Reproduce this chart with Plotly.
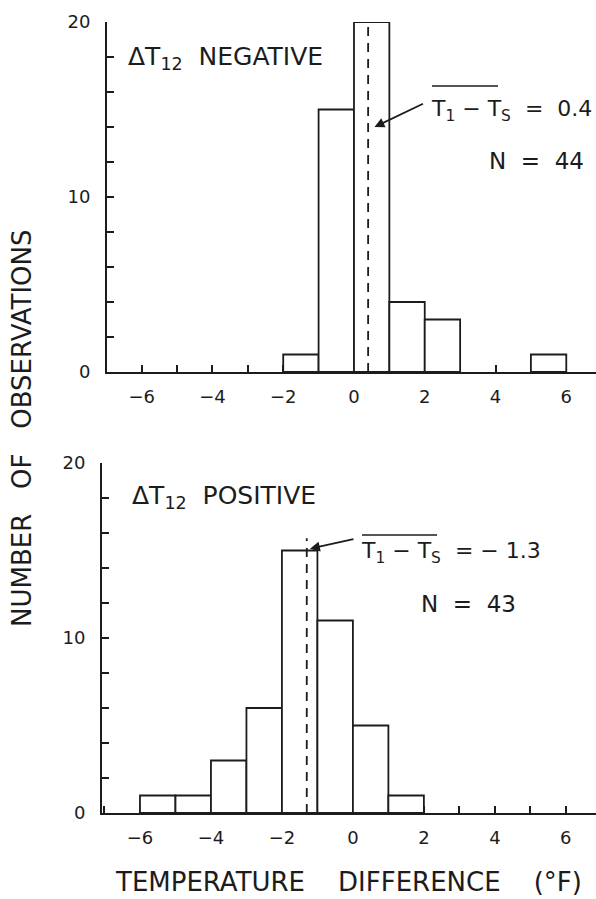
import plotly.graph_objects as go

# ---- data ----
neg_bin_left = [-2, -1, 0, 1, 2, 5]
neg_counts = [1, 15, 20, 4, 3, 1]
neg_mean = 0.4
neg_n = 44

pos_bin_left = [-6, -5, -4, -3, -2, -1, 0, 1]
pos_counts = [1, 1, 3, 6, 15, 11, 5, 1]
pos_mean = -1.3
pos_n = 43

x_tick_vals = [-6, -4, -2, 0, 2, 4, 6]
y_tick_vals = [0, 10, 20]

W, H = 596, 899
INK = "#1c1c1c"
FONT = "DejaVu Sans"
NB = "\u00a0"


def px(x):
    return x / W


def py(y):
    return 1 - y / H


fig = go.Figure()

for left, counts, xa, ya in [(neg_bin_left, neg_counts, "x", "y"),
                             (pos_bin_left, pos_counts, "x2", "y2")]:
    fig.add_trace(go.Bar(
        x=[b + 0.5 for b in left], y=counts, width=1,
        marker=dict(color="white", line=dict(color=INK, width=1.8)),
        xaxis=xa, yaxis=ya, cliponaxis=False, hoverinfo="skip"))

# dashed mean lines
fig.add_trace(go.Scatter(x=[neg_mean, neg_mean], y=[0, 20], mode="lines",
                         line=dict(color=INK, width=1.8, dash="9px,7px"),
                         xaxis="x", yaxis="y", cliponaxis=False))
fig.add_trace(go.Scatter(x=[pos_mean, pos_mean], y=[0, 15.7], mode="lines",
                         line=dict(color=INK, width=1.8, dash="9px,7px"),
                         xaxis="x2", yaxis="y2", cliponaxis=False))

axis_common = dict(showline=True, linecolor=INK, linewidth=2, showgrid=False,
                   zeroline=False, ticks="inside", ticklen=7, tickwidth=1.5,
                   tickcolor=INK, automargin=False,
                   tickfont=dict(family=FONT, size=18, color=INK))

xcommon = dict(axis_common, tickmode="array", tickvals=x_tick_vals,
               ticktext=[("\u2212" + str(-v)) if v < 0 else str(v) for v in x_tick_vals],
               minor=dict(tickmode="linear", tick0=0, dtick=1, ticks="inside",
                          ticklen=7, tickwidth=1.5, tickcolor=INK),
               ticklabelstandoff=7, layer="below traces")
ycommon = dict(axis_common, tickmode="array", tickvals=y_tick_vals,
               range=[0, 20],
               minor=dict(tickmode="linear", tick0=0, dtick=2, ticks="inside",
                          ticklen=7, tickwidth=1.5, tickcolor=INK),
               tickfont=dict(family=FONT, size=18, color=INK),
               ticklabelstandoff=11)

fig.update_layout(
    width=W, height=H, margin=dict(l=0, r=0, t=0, b=0, pad=0),
    paper_bgcolor="white", plot_bgcolor="white", showlegend=False,
    barmode="overlay",
    xaxis=dict(xcommon, domain=[px(107), 1], range=[-6.98, 6.84], anchor="y"),
    yaxis=dict(ycommon, domain=[py(372), py(22)], anchor="x"),
    xaxis2=dict(xcommon, domain=[px(102), 1], range=[-7.07, 6.85], anchor="y2"),
    yaxis2=dict(ycommon, domain=[py(813), py(463)], anchor="x2"),
)

ann = []


def txt(text, x, y, size, xanchor="left", angle=0):
    ann.append(dict(text=text, x=px(x), y=py(y), xref="paper", yref="paper",
                    xanchor=xanchor, yanchor="middle", showarrow=False,
                    textangle=angle, font=dict(family=FONT, size=size, color=INK)))


# panel labels
txt("\u0394T<sub>12</sub>" + NB * 2 + "NEGATIVE", 126, 58, 25)
txt("\u0394T<sub>12</sub>" + NB * 2 + "POSITIVE", 130, 497, 25)

# mean labels
txt("T<sub>1</sub> \u2212 T<sub>S</sub>" + NB * 2 + "=" + NB * 2 + f"{neg_mean}", 429, 110, 22)
txt("T<sub>1</sub> \u2212 T<sub>S</sub>" + NB * 2 + "=" + NB + "\u2212" + NB + f"{abs(pos_mean)}", 359, 552, 22)

# N labels
txt("N" + NB * 2 + "=" + NB * 2 + f"{neg_n}", 487, 161, 23)
txt("N" + NB * 2 + "=" + NB * 2 + f"{pos_n}", 419, 604, 23)

# axis titles
txt("NUMBER" + NB * 3 + "OF" + NB * 3 + "OBSERVATIONS", 22, 428, 26, xanchor="center", angle=-90)
txt("TEMPERATURE" + NB * 4 + "DIFFERENCE" + NB * 4 + "(\u00b0F)", 113, 882, 26)

# arrows pointing to mean lines
ann.append(dict(x=neg_mean + 0.18, y=14.0, xref="x", yref="y", ax=50, ay=-24,
                axref="pixel", ayref="pixel", showarrow=True, arrowhead=2,
                arrowsize=1.1, arrowwidth=1.8, arrowcolor=INK, text=""))
ann.append(dict(x=pos_mean + 0.09, y=15.1, xref="x2", yref="y2", ax=45, ay=-10,
                axref="pixel", ayref="pixel", showarrow=True, arrowhead=2,
                arrowsize=1.1, arrowwidth=1.8, arrowcolor=INK, text=""))

fig.update_layout(annotations=ann)

# overlines over "T1 - TS"
fig.add_shape(type="line", xref="paper", yref="paper", x0=px(432), x1=px(498),
              y0=py(86), y1=py(86), line=dict(color=INK, width=1.6))
fig.add_shape(type="line", xref="paper", yref="paper", x0=px(362), x1=px(437),
              y0=py(535), y1=py(535), line=dict(color=INK, width=1.6))

fig.write_html(
    "out.html",
    config={"displayModeBar": False},
    post_script="document.documentElement.style.margin='0';"
                "document.body.style.margin='0';"
                "document.body.style.padding='0';"
                "document.documentElement.style.overflow='hidden';"
                "document.body.style.overflow='hidden';",
)
